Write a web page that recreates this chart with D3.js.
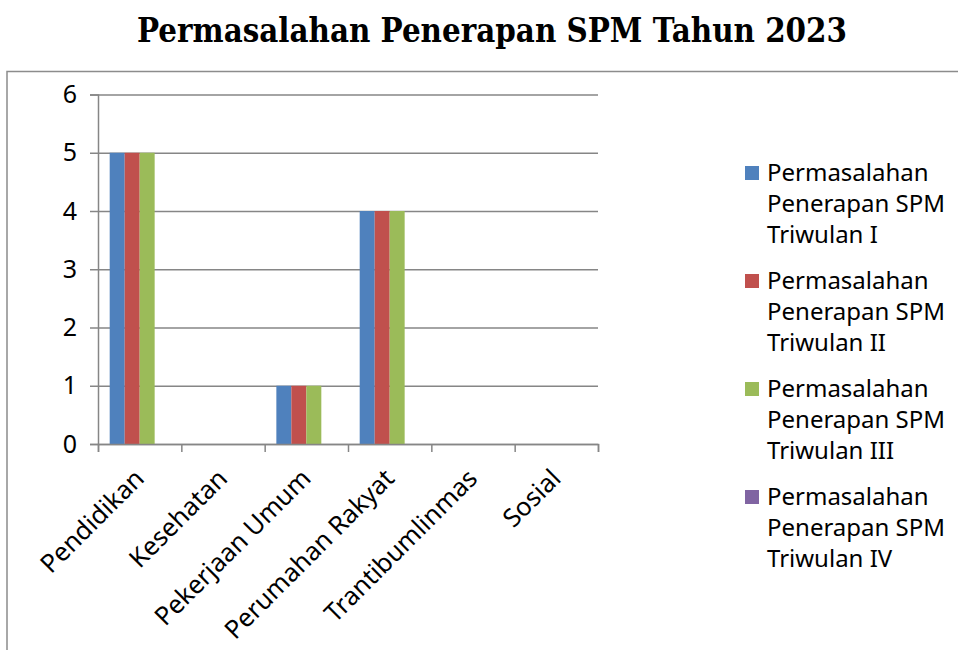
<!DOCTYPE html>
<html>
<head>
<meta charset="utf-8">
<script src="https://cdn.jsdelivr.net/npm/d3@7"></script>
<style>
  body { margin: 0; background: #fff; }
  svg { display: block; font-family: "Noto Sans", sans-serif; }
</style>
</head>
<body>
<div class="canvas"></div>
<script>
// data
const categories = ["Pendidikan", "Kesehatan", "Pekerjaan Umum", "Perumahan Rakyat", "Trantibumlinmas", "Sosial"];
const seriesNames = [
  ["Permasalahan", "Penerapan SPM", "Triwulan I"],
  ["Permasalahan", "Penerapan SPM", "Triwulan II"],
  ["Permasalahan", "Penerapan SPM", "Triwulan III"],
  ["Permasalahan", "Penerapan SPM", "Triwulan IV"]
];
const triwulan1 = [5, 0, 1, 4, 0, 0];
const triwulan2 = [5, 0, 1, 4, 0, 0];
const triwulan3 = [5, 0, 1, 4, 0, 0];
const triwulan4 = [0, 0, 0, 0, 0, 0];
const yTicks = [0, 1, 2, 3, 4, 5, 6];
const colors = ["#4F81BD", "#C0504D", "#9BBB59", "#8064A2"];

const series = [triwulan1, triwulan2, triwulan3, triwulan4];

const svg = d3.select(".canvas").append("svg")
  .attr("width", 958)
  .attr("height", 650);

//title
svg.append("text")
  .attr("x", 492)
  .attr("y", 42)
  .attr("text-anchor", "middle")
  .attr("textLength", 710)
  .attr("lengthAdjust", "spacingAndGlyphs")
  .style("font-family", "'DejaVu Serif', serif")
  .style("font-weight", "bold")
  .style("font-size", "33px")
  .text("Permasalahan Penerapan SPM Tahun 2023");

//chart border
svg.append("rect")
  .attr("x", 7)
  .attr("y", 71.5)
  .attr("width", 1000)
  .attr("height", 700)
  .attr("fill", "none")
  .attr("stroke", "#8c8c8c")
  .attr("stroke-width", 1.5);

//plot area
const plotLeft = 98, plotRight = 598, plotTop = 94.5, plotBottom = 444;

const y = d3.scaleLinear().domain([0, 6]).range([plotBottom, plotTop]);
const x0 = d3.scaleBand().domain(categories).range([plotLeft, plotRight]).padding(0);
const x1 = d3.scaleBand().domain(d3.range(series.length))
  .range([0, x0.bandwidth()])
  .paddingInner(0)
  .paddingOuter(0.78);
const xEdges = d3.scaleLinear().domain([0, categories.length]).range([plotLeft, plotRight]);

//gridlines
const grid = svg.append("g")
  .attr("transform", `translate(${plotLeft},0)`)
  .call(d3.axisLeft(y).tickValues(yTicks).tickSize(-(plotRight - plotLeft)).tickFormat(""));
grid.select(".domain").remove();
grid.selectAll("line").attr("stroke", "#868686").attr("stroke-width", 1.5);

//bars
series.forEach((vals, s) => {
  svg.append("g").selectAll("rect")
    .data(vals)
    .enter()
    .append("rect")
    .attr("x", (d, i) => x0(categories[i]) + x1(s))
    .attr("y", d => y(d))
    .attr("width", x1.bandwidth())
    .attr("height", d => plotBottom - y(d))
    .attr("fill", colors[s]);
});

//y axis
const yAxis = svg.append("g")
  .attr("transform", `translate(${plotLeft},0)`)
  .call(d3.axisLeft(y).tickValues(yTicks).tickSize(8).tickPadding(13).tickFormat(d3.format("d")));
yAxis.selectAll("line, path").attr("stroke", "#868686").attr("stroke-width", 1.5);
yAxis.selectAll("text").style("font-size", "25px").attr("fill", "#000").style("font-family", "'Noto Sans', sans-serif");

//x axis
const xAxis = svg.append("g")
  .attr("transform", `translate(0,${plotBottom})`)
  .call(d3.axisBottom(xEdges).tickValues(d3.range(categories.length + 1)).tickSize(8).tickFormat(""));
xAxis.selectAll("line, path").attr("stroke", "#868686").attr("stroke-width", 1.5);

//category labels
svg.append("g").selectAll("text")
  .data(categories)
  .enter()
  .append("text")
  .attr("transform", d => `translate(${x0(d) + x0.bandwidth() / 2 + 6},${plotBottom + 36}) rotate(-45)`)
  .attr("text-anchor", "end")
  .style("font-size", "25.5px")
  .text(d => d);

//legend
const legend = svg.append("g").attr("transform", "translate(745,166)");
seriesNames.forEach((lines, s) => {
  const g = legend.append("g").attr("transform", `translate(0,${s * 108})`);
  g.append("rect")
    .attr("width", 14)
    .attr("height", 14)
    .attr("fill", colors[s]);
  g.selectAll("text")
    .data(lines)
    .enter()
    .append("text")
    .attr("x", 22)
    .attr("y", (d, i) => 15 + i * 31)
    .style("font-size", "24px")
    .text(d => d);
});
</script>
</body>
</html>
